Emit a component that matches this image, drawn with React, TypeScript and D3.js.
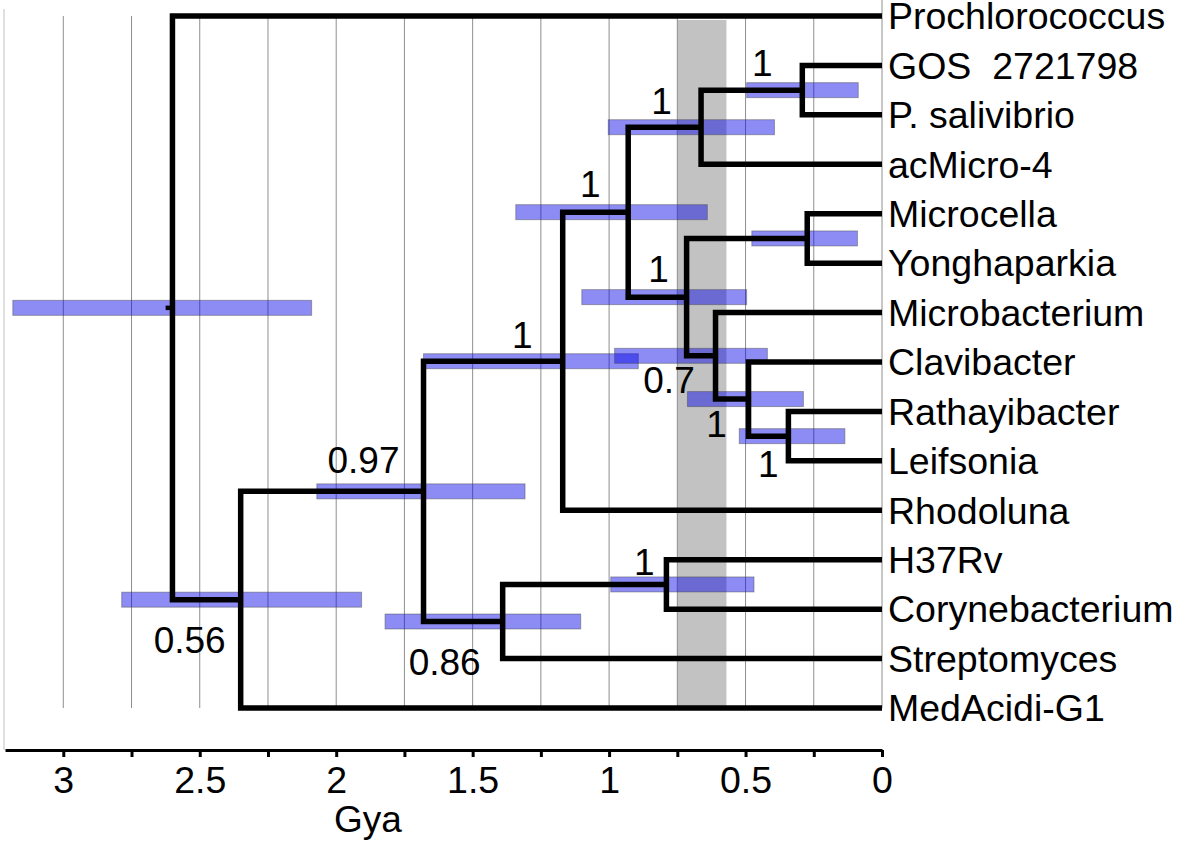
import React, { useEffect, useRef } from "react";
import * as d3 from "d3";

// ---------- data ----------
const taxa = [
  "Prochlorococcus",
  "GOS  2721798",
  "P. salivibrio",
  "acMicro-4",
  "Microcella",
  "Yonghaparkia",
  "Microbacterium",
  "Clavibacter",
  "Rathayibacter",
  "Leifsonia",
  "Rhodoluna",
  "H37Rv",
  "Corynebacterium",
  "Streptomyces",
  "MedAcidi-G1",
];

const cladeNames = ["A", "B", "C", "D", "E", "F", "G", "H", "I", "J", "K", "L", "M", "Root"];
const cladeChildren = [
  ["GOS  2721798", "P. salivibrio"],
  ["A", "acMicro-4"],
  ["Microcella", "Yonghaparkia"],
  ["Rathayibacter", "Leifsonia"],
  ["Clavibacter", "D"],
  ["Microbacterium", "E"],
  ["C", "F"],
  ["B", "G"],
  ["H", "Rhodoluna"],
  ["H37Rv", "Corynebacterium"],
  ["J", "Streptomyces"],
  ["I", "K"],
  ["L", "MedAcidi-G1"],
  ["Prochlorococcus", "M"],
];
const cladeAges = [0.292, 0.663, 0.274, 0.343, 0.489, 0.61, 0.716, 0.93, 1.17, 0.79, 1.39, 1.68, 2.35, 2.6];
const cladeHpdLow = [0.087, 0.394, 0.09, 0.136, 0.288, 0.42, 0.496, 0.64, 0.893, 0.469, 1.104, 1.308, 1.907, 2.09];
const cladeHpdHigh = [0.496, 1.003, 0.477, 0.523, 0.713, 0.98, 1.1, 1.342, 1.68, 0.994, 1.821, 2.071, 2.786, 3.185];
const cladeSupport = ["1", "1", "", "1", "1", "0.7", "1", "1", "1", "1", "0.86", "0.97", "0.56", ""];

const axisTicks = [3, 2.75, 2.5, 2.25, 2, 1.75, 1.5, 1.25, 1, 0.75, 0.5, 0.25, 0];
const axisLabelTicks = [3, 2.5, 2, 1.5, 1, 0.5, 0];
const gridTicks = [3, 2.75, 2.5, 2.25, 2, 1.75, 1.5, 1.25, 1, 0.75, 0.5, 0.25, 0];
const shadedBand = [0.57, 0.75];
const axisTitle = "Gya";

// ---------- layout (positions/styles) ----------
const supportOffsets: [number, number][] = [
  [-40, -14.5],
  [-39.5, -13],
  [0, 0],
  [-20, 41],
  [-32, 38],
  [-46.5, 37],
  [-28, -15],
  [-38, -15],
  [-40.5, -13],
  [-22, -9.5],
  [-58, 53],
  [-60, -18],
  [-51, 53],
  [0, 0],
];

const W = 1181;
const H = 842;
const FONT = "'Liberation Sans', Arial, Helvetica, sans-serif";

type TNode = { name: string; age: number; idx: number; children?: TNode[] };

function buildTree(name: string): TNode {
  const i = cladeNames.indexOf(name);
  if (i < 0) return { name, age: 0, idx: -1 };
  return {
    name,
    age: cladeAges[i],
    idx: i,
    children: cladeChildren[i].map(buildTree),
  };
}

export default function App() {
  const axisRef = useRef<SVGGElement>(null);

  const x = d3.scaleLinear().domain([3.2136, 0]).range([5, 882]);
  const y = d3.scaleLinear().domain([0, taxa.length - 1]).range([16, 708]);

  const root = d3.hierarchy<TNode>(buildTree("Root"));
  const pos = new Map<any, { x: number; y: number }>();
  root.eachAfter((n: any) => {
    if (!n.children) {
      pos.set(n, { x: x(0), y: y(taxa.indexOf(n.data.name)) });
    } else {
      const ys = n.children.map((c: any) => pos.get(c)!.y);
      pos.set(n, { x: x(n.data.age), y: d3.mean(ys)! });
    }
  });

  const internal = root.descendants().filter((n: any) => n.children);

  useEffect(() => {
    if (!axisRef.current) return;
    const g = d3.select(axisRef.current);
    g.selectAll("*").remove();
    const axis = d3
      .axisBottom(x)
      .tickValues(axisTicks)
      .tickFormat((d: any) => (axisLabelTicks.includes(+d) ? d3.format("")(+d) : ""))
      .tickSize(7)
      .tickSizeOuter(0)
      .tickPadding(9);
    g.call(axis as any);
    g.attr("font-family", FONT).attr("font-size", 37.5);
    g.select(".domain").attr("stroke", "#000").attr("stroke-width", 3);
    g.selectAll(".tick line").attr("stroke", "#000").attr("stroke-width", 3);
    g.selectAll(".tick text").attr("fill", "#000");
  }, []);

  const branchPath = (n: any) => {
    const p = pos.get(n)!;
    const c = n.children.map((ch: any) => pos.get(ch)!);
    const top = c[0];
    const bot = c[c.length - 1];
    const path = d3.path();
    path.moveTo(top.x, top.y);
    path.lineTo(p.x, top.y);
    path.lineTo(p.x, bot.y);
    path.lineTo(bot.x, bot.y);
    return path.toString();
  };

  const rootPos = pos.get(root)!;

  return (
    <svg
      width={W}
      height={H}
      style={{ position: "absolute", left: 0, top: 0, background: "#fff" }}
    >
      <rect x={0} y={0} width={W} height={H} fill="#fff" />
      {/* left frame */}
      <line x1={4} x2={4} y1={9} y2={750} stroke="#d6d6d6" strokeWidth={1.5} />
      {/* shaded band */}
      <rect
        x={x(shadedBand[1])}
        y={20}
        width={x(shadedBand[0]) - x(shadedBand[1])}
        height={686}
        fill="#c2c2c2"
      />
      {/* grid */}
      {gridTicks.map((t) => (
        <line
          key={t}
          x1={x(t)}
          x2={x(t)}
          y1={t === 0 ? 0 : 16}
          y2={708}
          stroke="#8e8e8e"
          strokeWidth={1}
        />
      ))}
      {/* HPD bars */}
      {internal.map((n: any) => {
        const p = pos.get(n)!;
        const i = n.data.idx;
        const x0 = x(cladeHpdHigh[i]);
        const x1 = x(cladeHpdLow[i]);
        return (
          <rect
            key={"hpd" + i}
            x={x0}
            y={p.y - 7.5}
            width={x1 - x0}
            height={15}
            fill="#0000e6"
            fillOpacity={0.45}
            stroke="#4a4a4a"
            strokeOpacity={0.45}
            strokeWidth={1}
          />
        );
      })}
      {/* branches */}
      {internal.map((n: any) => (
        <path
          key={"br" + n.data.name}
          d={branchPath(n)}
          fill="none"
          stroke="#000"
          strokeWidth={5.5}
          strokeLinejoin="miter"
        />
      ))}
      <line
        x1={rootPos.x - (x(0) - x(0.025))}
        x2={rootPos.x}
        y1={rootPos.y}
        y2={rootPos.y}
        stroke="#000"
        strokeWidth={4.5}
      />
      {/* taxa labels */}
      {taxa.map((t, i) => (
        <text
          key={t}
          x={888}
          y={y(i) + 13.3}
          fontFamily={FONT}
          fontSize={37.5}
          fill="#000"
          style={{ whiteSpace: "pre" }}
        >
          {t}
        </text>
      ))}
      {/* support labels */}
      {internal.map((n: any) => {
        const i = n.data.idx;
        if (!cladeSupport[i]) return null;
        const p = pos.get(n)!;
        return (
          <text
            key={"sup" + i}
            x={p.x + supportOffsets[i][0]}
            y={p.y + supportOffsets[i][1]}
            textAnchor="middle"
            fontFamily={FONT}
            fontSize={37}
            fill="#000"
          >
            {cladeSupport[i]}
          </text>
        );
      })}
      {/* axis */}
      <g ref={axisRef} transform="translate(0,750)" />
      <text x={368} y={832} textAnchor="middle" fontFamily={FONT} fontSize={37} fill="#000">
        {axisTitle}
      </text>
    </svg>
  );
}
